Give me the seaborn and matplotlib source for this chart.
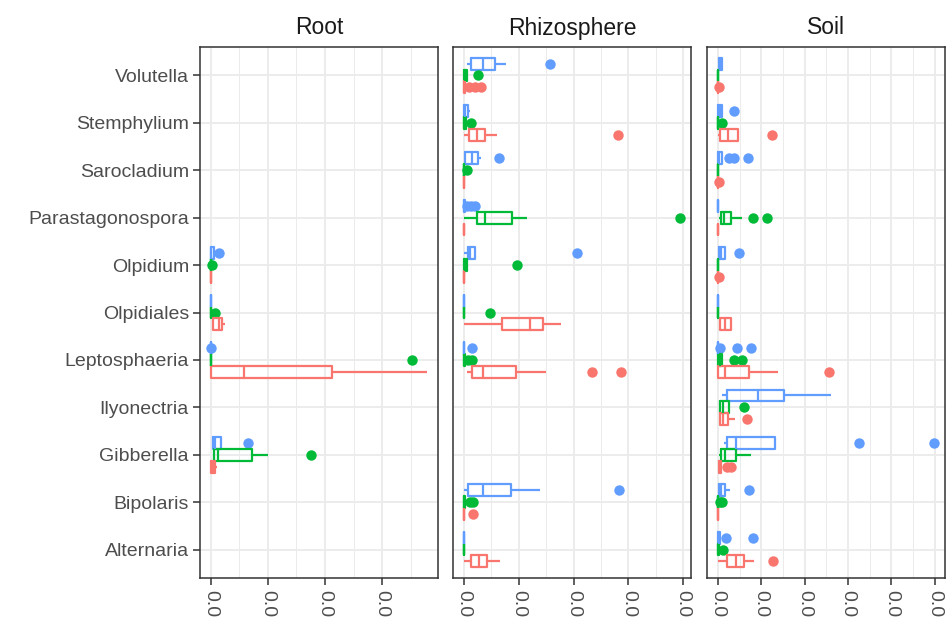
import numpy as np
import pandas as pd
import matplotlib
matplotlib.use("Agg")
import matplotlib.pyplot as plt
from matplotlib.ticker import MultipleLocator, FormatStrFormatter
import seaborn as sns

sns.set_style("white")
plt.rcParams["font.family"] = ["Liberation Sans", "DejaVu Sans"]

# ---------------- data ----------------
genera = ["Volutella", "Stemphylium", "Sarocladium", "Parastagonospora", "Olpidium",
          "Olpidiales", "Leptosphaeria", "Ilyonectria", "Gibberella", "Bipolaris", "Alternaria"]
compartments = ["Root", "Rhizosphere", "Soil"]
groups = ["T1", "T2", "T3"]          # red, green, blue
colors = ["#F8766D", "#00BA38", "#619CFF"]

Z9 = [0, 0, 0, 0, 0, 0, 0, 0, 0]

# Root
root_t1 = {
    "Olpidium": Z9,
    "Olpidiales": [0.00035, 0.0004, 0.00044, 0.0009, 0.0014, 0.0017, 0.0019, 0.0021, 0.00244],
    "Leptosphaeria": [0, 0, 0, 0.002, 0.0058, 0.012, 0.0213, 0.03, 0.0379],
    "Gibberella": [0, 0, 0, 0.0001, 0.0003, 0.0005, 0.0007, 0.0009, 0.00105],
}
root_t2 = {
    "Olpidium": [0, 0, 0, 0, 0, 0, 0, 0, 0.0002],
    "Olpidiales": [0, 0, 0, 0, 0, 0, 0, 0, 0.0008],
    "Leptosphaeria": [0, 0, 0, 0, 0, 0, 0, 0, 0.0353],
    "Gibberella": [0.00035, 0.0004, 0.00052, 0.0009, 0.00122, 0.004, 0.00715, 0.0101, 0.0176],
}
root_t3 = {
    "Olpidium": [0, 0, 0, 0.00003, 0.0001, 0.0003, 0.0005, 0.0006, 0.0015],
    "Olpidiales": Z9,
    "Leptosphaeria": [0, 0, 0, 0, 0, 0, 0, 0, 0.0001],
    "Gibberella": [0.00017, 0.0003, 0.00035, 0.0005, 0.0007, 0.0012, 0.00175, 0.00175, 0.00645],
}

# Rhizosphere
rhizo_t1 = {
    "Volutella": [0, 0, 0, 0, 0, 0, 0, 0, 0, 0.0009, 0.002, 0.0032],
    "Stemphylium": [0, 0.0005, 0.00091, 0.0017, 0.00236, 0.003, 0.00382, 0.006, 0.0282],
    "Sarocladium": Z9,
    "Parastagonospora": Z9,
    "Olpidium": Z9,
    "Olpidiales": [0, 0.004, 0.0069, 0.0095, 0.012, 0.013, 0.01436, 0.016, 0.0178],
    "Leptosphaeria": [0.00055, 0.0008, 0.0011, 0.00145, 0.002, 0.0028, 0.00345,
                      0.005, 0.007, 0.00945, 0.0149, 0.0233, 0.0287],
    "Bipolaris": [0, 0, 0, 0, 0, 0, 0, 0, 0.0016],
    "Alternaria": [0, 0.0007, 0.00127, 0.002, 0.00273, 0.0035, 0.00418, 0.0055, 0.00655],
}
rhizo_t2 = {
    "Volutella": [0, 0, 0, 0.0001, 0.0002, 0.0004, 0.00055, 0.0006, 0.00255],
    "Stemphylium": [0, 0, 0, 0, 0.0001, 0.0002, 0.00036, 0.0004, 0.00136],
    "Sarocladium": [0, 0, 0, 0, 0, 0, 0, 0, 0.00055],
    "Parastagonospora": [0, 0.0012, 0.00236, 0.003, 0.00382, 0.006, 0.00873, 0.01145, 0.03945],
    "Olpidium": [0, 0, 0, 0.0001, 0.0002, 0.0004, 0.00055, 0.0006, 0.00964],
    "Olpidiales": [0, 0, 0, 0, 0, 0, 0, 0, 0.00473],
    "Leptosphaeria": [0, 0, 0, 0, 0.0001, 0.0001, 0.0002, 0.0008, 0.00145],
    "Bipolaris": [0, 0, 0, 0, 0.0001, 0.0001, 0.0002, 0.0011, 0.0016],
    "Alternaria": Z9,
}
rhizo_t3 = {
    "Volutella": [0.00055, 0.0009, 0.00127, 0.0024, 0.00345, 0.0045, 0.00564, 0.00764, 0.01564],
    "Stemphylium": [0, 0, 0, 0.0001, 0.00018, 0.0004, 0.00073, 0.0009, 0.0011],
    "Sarocladium": [0, 0.0001, 0.00018, 0.0008, 0.00145, 0.002, 0.00255, 0.0031, 0.0065],
    "Parastagonospora": [0, 0, 0, 0, 0, 0, 0, 0, 0, 0.0006, 0.0013, 0.002],
    "Olpidium": [0, 0.0003, 0.00073, 0.0009, 0.0011, 0.0015, 0.002, 0.002, 0.0207],
    "Olpidiales": Z9,
    "Leptosphaeria": [0, 0, 0, 0, 0, 0, 0, 0, 0.00145],
    "Bipolaris": [0, 0.0004, 0.00073, 0.002, 0.00345, 0.006, 0.00855, 0.0138, 0.02836],
    "Alternaria": Z9,
}

# Soil
soil_t1 = {
    "Volutella": [0, 0, 0, 0, 0, 0, 0, 0, 0.00035],
    "Stemphylium": [0.00012, 0.0003, 0.00058, 0.0015, 0.00242, 0.0035, 0.00461, 0.00484, 0.01256],
    "Sarocladium": [0, 0, 0, 0, 0, 0, 0, 0, 0.00025],
    "Parastagonospora": Z9,
    "Olpidium": [0, 0, 0, 0, 0, 0, 0, 0, 0.00035],
    "Olpidiales": [0.00023, 0.0003, 0.00046, 0.001, 0.00173, 0.0025, 0.003, 0.0031, 0.00323],
    "Leptosphaeria": [0, 0.0001, 0.00012, 0.0008, 0.00173, 0.004, 0.00726, 0.01394, 0.02569],
    "Ilyonectria": [0.00046, 0.0005, 0.00058, 0.0009, 0.00115, 0.0018, 0.00242, 0.00403, 0.0068],
    "Gibberella": [0.0001, 0.0002, 0.00023, 0.0004, 0.0005, 0.0006, 0.0007, 0.0021, 0.003],
    "Bipolaris": Z9,
    "Alternaria": [0.00012, 0.001, 0.00219, 0.003, 0.00426, 0.005, 0.00611, 0.00841, 0.01279],
}
soil_t2 = {
    "Volutella": Z9,
    "Stemphylium": [0, 0, 0, 0, 0, 0, 0, 0, 0.001],
    "Sarocladium": Z9,
    "Parastagonospora": [0.00023, 0.0004, 0.0006, 0.00081, 0.001, 0.0012, 0.00138,
                         0.002, 0.0026, 0.00311, 0.00564, 0.00818, 0.0114],
    "Olpidium": Z9,
    "Olpidiales": Z9,
    "Leptosphaeria": [0, 0, 0, 0.0002, 0.0004, 0.0006, 0.0009, 0.0037, 0.0055],
    "Ilyonectria": [0.0004, 0.0005, 0.00058, 0.0009, 0.00127, 0.002, 0.00265, 0.00276, 0.006],
    "Gibberella": [0.00023, 0.0005, 0.00081, 0.0012, 0.00173, 0.003, 0.00426, 0.006, 0.00772],
    "Bipolaris": [0, 0, 0, 0, 0, 0, 0, 0.0004, 0.0009],
    "Alternaria": [0, 0, 0, 0, 0, 0.0001, 0.0002, 0.0003, 0.0013],
}
soil_t3 = {
    "Volutella": [0, 0.0001, 0.00023, 0.0003, 0.00046, 0.0007, 0.00092, 0.001, 0.00115],
    "Stemphylium": [0, 0, 0, 0.0002, 0.0004, 0.0006, 0.00092, 0.001, 0.0038],
    "Sarocladium": [0, 0, 0, 0, 0.0001, 0.0002, 0.0003, 0.0005, 0.0007, 0.0009,
                    0.0025, 0.0037, 0.0069],
    "Parastagonospora": Z9,
    "Olpidium": [0, 0.0002, 0.00035, 0.0005, 0.0007, 0.0012, 0.00173, 0.00173, 0.00495],
    "Olpidiales": Z9,
    "Leptosphaeria": [0, 0, 0, 0, 0, 0, 0, 0, 0, 0.0006, 0.0045, 0.0077],
    "Ilyonectria": [0.00104, 0.0015, 0.00219, 0.005, 0.00933, 0.012, 0.01532, 0.02, 0.02615],
    "Gibberella": [0.0015, 0.0019, 0.00219, 0.003, 0.00426, 0.008, 0.01325, 0.0326, 0.04988],
    "Bipolaris": [0, 0.0001, 0.00023, 0.0005, 0.0007, 0.0012, 0.00173, 0.00288, 0.00726],
    "Alternaria": [0, 0, 0, 0.0001, 0.0002, 0.0004, 0.0006, 0.0018, 0.0082],
}

tables = {
    "Root": [root_t1, root_t2, root_t3],
    "Rhizosphere": [rhizo_t1, rhizo_t2, rhizo_t3],
    "Soil": [soil_t1, soil_t2, soil_t3],
}

rows = []
for comp in compartments:
    for grp, tab in zip(groups, tables[comp]):
        for gen, vals in tab.items():
            for v in vals:
                rows.append((comp, gen, grp, v))
df = pd.DataFrame(rows, columns=["compartment", "genus", "group", "abundance"])

palette = dict(zip(groups, colors))
hue_order = ["T3", "T2", "T1"]   # top to bottom within each genus

# ---------------- figure ----------------
W, H = 948, 623
fig = plt.figure(figsize=(W / 100, H / 100), dpi=100)
panel_left = [200, 453, 707]
panel_w = 238
top_px, bot_px = 47, 578

grid_col = "#EBEBEB"
axes = []
for i, comp in enumerate(compartments):
    ax = fig.add_axes([panel_left[i] / W, 1 - bot_px / H, panel_w / W, (bot_px - top_px) / H])
    axes.append(ax)
    sub = df[df.compartment == comp]
    sns.boxplot(data=sub, x="abundance", y="genus", hue="group", order=genera,
                hue_order=hue_order, palette=palette, orient="h", width=0.75, gap=0,
                dodge=True, fill=False, linewidth=1.6, fliersize=7, whis=1.5,
                legend=False, showcaps=False, ax=ax)
    # white box interiors
    for p in ax.patches:
        p.set_fill(True)
        p.set_facecolor("white")
    # filled circular outliers
    for ln in ax.lines:
        m = ln.get_marker()
        if m not in (None, "None", "", " "):
            c = ln.get_markeredgecolor()
            ln.set_marker("o")
            ln.set_markerfacecolor(c)
            ln.set_markeredgecolor(c)
            ln.set_markeredgewidth(0)
            ln.set_markersize(7.5)
    xmax = sub["abundance"].max()
    ax.set_xlim(-0.05 * xmax, 1.05 * xmax)
    ax.set_ylim(len(genera) - 1 + 0.6, -0.6)
    ax.xaxis.set_major_locator(MultipleLocator(0.01))
    ax.xaxis.set_minor_locator(MultipleLocator(0.005))
    ax.xaxis.set_major_formatter(FormatStrFormatter("%.1f"))
    ax.set_axisbelow(True)
    ax.grid(True, which="major", axis="both", color=grid_col, linewidth=1.3)
    ax.grid(True, which="minor", axis="x", color=grid_col, linewidth=0.7)
    ax.set_xlabel("")
    ax.set_ylabel("")
    for s in ax.spines.values():
        s.set_color("#333333")
        s.set_linewidth(1.1)
    ax.tick_params(axis="x", which="major", bottom=True, length=5, width=1.1,
                   color="#333333", labelsize=14, labelcolor="#4D4D4D", pad=4,
                   labelrotation=270)
    ax.tick_params(axis="x", which="minor", bottom=False)
    if i == 0:
        ax.tick_params(axis="y", left=True, length=5, width=1.1, color="#333333",
                       labelsize=14, labelcolor="#4D4D4D", pad=3)
    else:
        ax.tick_params(axis="y", left=False, labelleft=False)
    for lab in ax.get_xticklabels():
        lab.set_ha("center")
        lab.set_va("top")
    ax.set_title(comp, fontsize=16.5, color="#1A1A1A", pad=9)

fig.savefig("out.png", dpi=100)
